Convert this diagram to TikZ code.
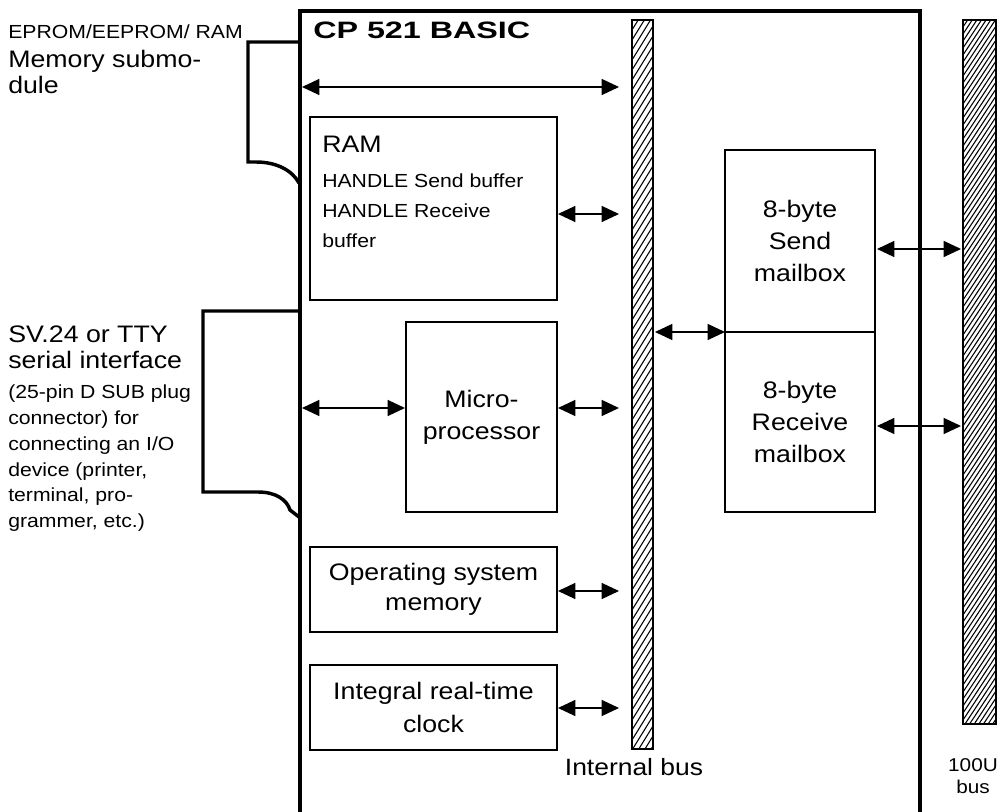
\documentclass[tikz,border=0pt]{standalone}
\usepackage{fontspec}
\setmainfont[FakeStretch=1.12]{Liberation Sans}
\newfontfamily\titlef[FakeStretch=1.36]{Liberation Sans}
\usetikzlibrary{arrows.meta,fit}
\begin{document}
\begin{tikzpicture}[x=0.75pt,y=-0.75pt,
  frame/.style={line width=3pt, line join=miter},
  conn/.style={line width=2.6pt, line join=miter},
  box/.style={draw, line width=1pt, inner sep=0pt},
  busbox/.style={draw, line width=0.9pt, inner sep=0pt},
  hatch/.style={line width=0.8pt},
  dbl/.style={line width=1pt, {Triangle[length=13pt,width=12pt]}-{Triangle[length=13pt,width=12pt]}},
  boxtxt/.style={font=\fontsize{17.9}{24}\selectfont, align=center, inner sep=0pt},
  bigl/.style={font=\fontsize{17.9}{19.5}\selectfont, align=left, inner sep=0pt, anchor=north west},
  smalll/.style={font=\fontsize{14.2}{19.3}\selectfont, align=left, inner sep=0pt, anchor=north west},
]
\useasboundingbox (0,0) rectangle (999,812);

% main module frame (open at the bottom)
\draw[frame] (300,820) -- (300,11) -- (920,11) -- (920,820);
\node[anchor=base west, inner sep=0pt, font=\titlef\bfseries\fontsize{17.8}{20}\selectfont] (title) at (313,39) {CP 521 BASIC};

% memory submodule connector
\draw[conn] (300,42) -- (248,42) -- (248,162) -- (256,162) .. controls (276,162) and (292,170) .. (299,183);
\node[anchor=base west, inner sep=0pt, font=\fontsize{14.2}{16}\selectfont] (eprom) at (8,39) {EPROM/EEPROM/ RAM};
\node[bigl] (memsub) at (8,50) {Memory submo-\\dule};

% serial interface connector
\draw[conn] (300,311) -- (203,311) -- (203,492) -- (258,492) .. controls (276,492) and (287,500) .. (290,510) -- (299,517);
\node[bigl] (sv24) at (8,326) {SV.24 or TTY\\serial interface};
\node[smalll] (svtxt) at (8,385) {(25-pin D SUB plug\\connector) for\\connecting an I/O\\device (printer,\\terminal, pro-\\grammer, etc.)};

% internal bus
\node[busbox, fit={(632,20) (653,749)}] (ibus) {};
\begin{scope}
  \clip (632,20) rectangle (653,749);
  \foreach \k in {0,...,77} \draw[hatch] (632,{20+10*\k}) -- ++(21,-34);
\end{scope}
\draw[busbox] (ibus.south west) rectangle (ibus.north east);
\node[anchor=base, inner sep=0pt, font=\fontsize{17.7}{20}\selectfont] (ibuslbl) at (634,775) {Internal bus};

% 100U bus
\node[busbox, fit={(963,20) (996,724)}] (ubus) {};
\begin{scope}
  \clip (963,20) rectangle (996,724);
  \foreach \k in {0,...,108} \draw[hatch] (963,{20+7*\k}) -- ++(33,-50);
\end{scope}
\draw[busbox] (ubus.south west) rectangle (ubus.north east);
\node[anchor=north, inner sep=0pt, align=center, font=\fontsize{13.9}{16.5}\selectfont] (ubuslbl) at (973,758) {100U\\bus};

% boxes
\node[box, fit={(310,117) (557,300)}] (ram) {};
\node[anchor=base west, inner sep=0pt, font=\fontsize{17.9}{20}\selectfont] (ramt) at (322,153) {RAM};
\node[smalll, font=\fontsize{14.2}{22.5}\selectfont] (ramtxt) at (322,173.2) {HANDLE Send buffer\\HANDLE Receive\\buffer};

\node[box, fit={(406,322) (557,512)}] (micro) {};
\node[boxtxt] (microt) at (micro.center) {Micro-\\processor};

\node[box, fit={(310,547) (557,632)}] (osm) {};
\node[boxtxt, font=\fontsize{17.9}{22.5}\selectfont] (osmt) at (osm.center) {Operating system\\memory};

\node[box, fit={(310,665) (557,750)}] (clk) {};
\node[boxtxt, font=\fontsize{17.9}{25}\selectfont] (clkt) at (clk.center) {Integral real-time\\clock};

\node[box, fit={(725,150) (875,332)}] (send) {};
\node[boxtxt] (sendt) at (send.center) {8-byte\\Send\\mailbox};
\node[box, fit={(725,332) (875,512)}] (recv) {};
\node[boxtxt] (recvt) at (recv.center) {8-byte\\Receive\\mailbox};

% arrow end points
\coordinate (memL) at (302,87);   \coordinate (memR) at (619,87);
\coordinate (ramA) at (558,214);  \coordinate (ramB) at (619,214);
\coordinate (serA) at (302,408);  \coordinate (serB) at (405,408);
\coordinate (micA) at (558,408);  \coordinate (micB) at (619,408);
\coordinate (osA)  at (558,591);  \coordinate (osB)  at (619,591);
\coordinate (clA)  at (558,708);  \coordinate (clB)  at (619,708);
\coordinate (mbA)  at (655,332);  \coordinate (mbB)  at (725,332);
\coordinate (sdA)  at (877,249);  \coordinate (sdB)  at (961,249);
\coordinate (rcA)  at (877,426);  \coordinate (rcB)  at (961,426);

\draw[dbl] (memL) -- (memR);
\draw[dbl] (ramA) -- (ramB);
\draw[dbl] (serA) -- (serB);
\draw[dbl] (micA) -- (micB);
\draw[dbl] (osA) -- (osB);
\draw[dbl] (clA) -- (clB);
\draw[dbl] (mbA) -- (mbB);
\draw[dbl] (sdA) -- (sdB);
\draw[dbl] (rcA) -- (rcB);
\end{tikzpicture}
\end{document}
